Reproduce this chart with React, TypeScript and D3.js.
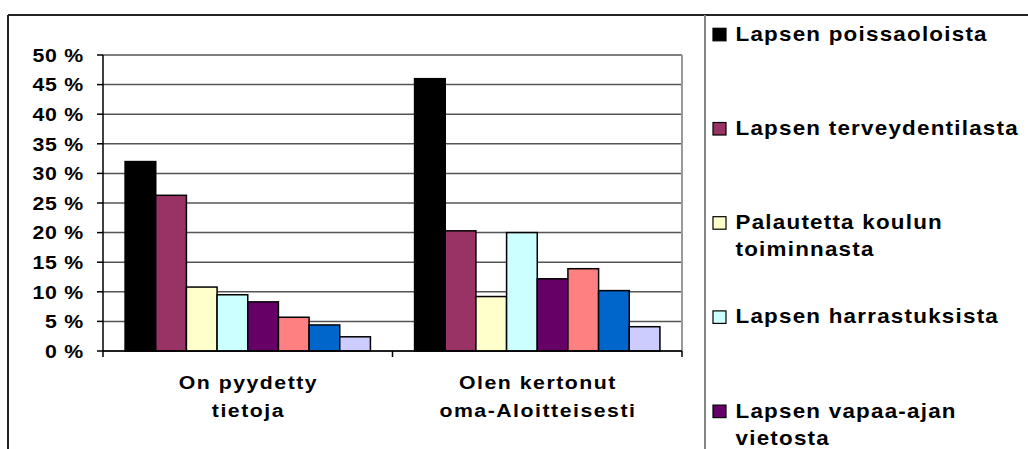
import React from "react";
import * as d3 from "d3";

const categories = ["On pyydetty tietoja", "Olen kertonut oma-Aloitteisesti"];
const categoryLines = [["On pyydetty", "tietoja"], ["Olen kertonut", "oma-Aloitteisesti"]];

const seriesNames = [
  "Lapsen poissaoloista",
  "Lapsen terveydentilasta",
  "Palautetta koulun toiminnasta",
  "Lapsen harrastuksista",
  "Lapsen vapaa-ajan vietosta",
  "Lapsen koulumenestyksestä",
  "Lapsen kaverisuhteista",
  "Muusta",
];
const legendLines = [
  ["Lapsen poissaoloista"],
  ["Lapsen terveydentilasta"],
  ["Palautetta koulun", "toiminnasta"],
  ["Lapsen harrastuksista"],
  ["Lapsen vapaa-ajan", "vietosta"],
  ["Lapsen koulumenestyksestä"],
  ["Lapsen kaverisuhteista"],
  ["Muusta"],
];
const seriesColors = ["#000000", "#993366", "#FFFFCC", "#CCFFFF", "#660066", "#FF8080", "#0066CC", "#CCCCFF"];

// values per series: [On pyydetty tietoja, Olen kertonut oma-Aloitteisesti]
const s1 = [32.0, 46.0];
const s2 = [26.3, 20.3];
const s3 = [10.8, 9.2];
const s4 = [9.5, 20.0];
const s5 = [8.3, 12.2];
const s6 = [5.7, 13.9];
const s7 = [4.4, 10.2];
const s8 = [2.4, 4.1];
const seriesValues = [s1, s2, s3, s4, s5, s6, s7, s8];

const yTicks = [0, 5, 10, 15, 20, 25, 30, 35, 40, 45, 50];

const FONT = "'Liberation Sans', Arial, sans-serif";
const SX = 1.12;

export default function App() {
  const W = 1028, H = 449;
  const plotL = 103, plotR = 682, plotT = 55, plotB = 351;
  const y = d3.scaleLinear().domain([0, 50]).range([plotB, plotT]);
  const x0 = d3.scaleBand<string>().domain(categories).range([plotL, plotR]);
  const x1 = d3.scaleBand<string>().domain(seriesNames).range([0, x0.bandwidth()]).paddingInner(0).paddingOuter(0.72);

  const catBounds = [plotL, ...categories.map((c) => (x0(c) as number) + x0.bandwidth())];

  const legendX = 713;
  const legendTop = 40.8;
  const legendStep = 94.2;
  const lineH = 27;

  return (
    <svg width={W} height={H} style={{ position: "absolute", left: 0, top: 0, background: "#fff" }}>
      <rect x={0} y={0} width={W} height={H} fill="#fff" />
      {/* chart frame */}
      <line x1={8} x2={W} y1={15} y2={15} stroke="#222" strokeWidth={2} />
      <line x1={8} x2={8} y1={15} y2={H} stroke="#222" strokeWidth={2} />
      {/* legend box left border */}
      <line x1={705} x2={705} y1={15} y2={H} stroke="#858585" strokeWidth={2} />

      {/* gridlines */}
      {yTicks.map((t) => (
        <line key={"g" + t} x1={plotL} x2={plotR} y1={y(t)} y2={y(t)} stroke="#555" strokeWidth={1.5} />
      ))}
      {/* plot right border */}
      <line x1={plotR} x2={plotR} y1={plotT} y2={plotB} stroke="#9a9a9a" strokeWidth={2} />

      {/* bars */}
      {categories.map((c, ci) => (
        <g key={c} transform={`translate(${x0(c)},0)`}>
          {seriesNames.map((s, si) => {
            const v = seriesValues[si][ci];
            return (
              <rect
                key={s}
                x={x1(s)}
                y={y(v)}
                width={x1.bandwidth()}
                height={y(0) - y(v)}
                fill={seriesColors[si]}
                stroke="#000"
                strokeWidth={1.5}
              />
            );
          })}
        </g>
      ))}

      {/* axes */}
      <line x1={plotL} x2={plotL} y1={plotT} y2={plotB} stroke="#000" strokeWidth={1.5} />
      <line x1={plotL} x2={plotR} y1={plotB} y2={plotB} stroke="#000" strokeWidth={1.5} />
      {yTicks.map((t) => (
        <line key={"yt" + t} x1={plotL - 6} x2={plotL} y1={y(t)} y2={y(t)} stroke="#000" strokeWidth={1.5} />
      ))}
      {catBounds.map((b, i) => (
        <line key={"xt" + i} x1={b} x2={b} y1={plotB} y2={plotB + 6} stroke="#000" strokeWidth={1.5} />
      ))}

      {/* y labels */}
      {yTicks.map((t) => (
        <text
          key={"yl" + t}
          transform={`translate(84,${y(t) + 6.7}) scale(${SX},1)`}
          textAnchor="end"
          fontFamily={FONT}
          fontWeight="bold"
          fontSize={19}
          letterSpacing={0.7}
          fill="#000"
        >
          {`${t} %`}
        </text>
      ))}

      {/* category labels */}
      {categories.map((c, ci) => (
        <text
          key={"cl" + c}
          transform={`translate(${(x0(c) as number) + x0.bandwidth() / 2},0) scale(${SX},1)`}
          textAnchor="middle"
          fontFamily={FONT}
          fontWeight="bold"
          fontSize={19}
          letterSpacing={1.35}
          fill="#000"
        >
          {categoryLines[ci].map((ln, li) => (
            <tspan key={li} x={0.6} y={389 + li * 28}>
              {ln}
            </tspan>
          ))}
        </text>
      ))}

      {/* legend (entries past the bottom edge are clipped in the reference, so not drawn) */}
      {seriesNames.map((s, si) => {
        const by = legendTop + si * legendStep;
        if (by - 14 > H) return null;
        return (
          <g key={"lg" + s}>
            <rect x={legendX} y={by - 12.5} width={13} height={12.5} fill={seriesColors[si]} stroke="#000" strokeWidth={1.2} />
            <text
              transform={`translate(735.5,0) scale(${SX},1)`}
              fontFamily={FONT}
              fontWeight="bold"
              fontSize={20}
              letterSpacing={1.1}
              fill="#000"
            >
              {legendLines[si].map((ln, li) => (
                <tspan key={li} x={0} y={by + li * lineH}>
                  {ln}
                </tspan>
              ))}
            </text>
          </g>
        );
      })}
    </svg>
  );
}
